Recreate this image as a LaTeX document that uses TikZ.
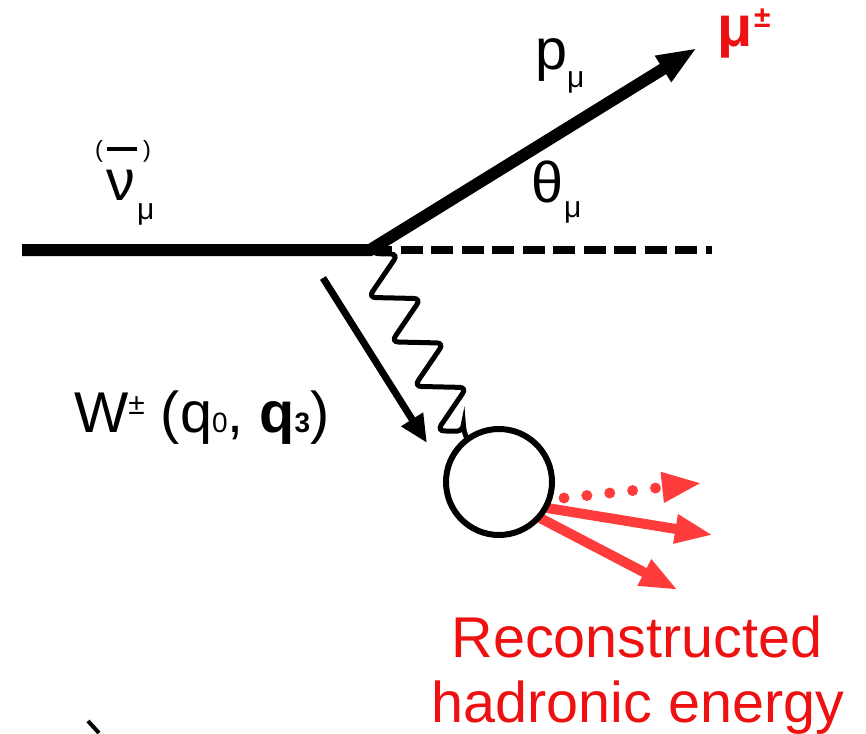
\documentclass[tikz,border=0pt]{standalone}
\usepackage{fontspec}
\setmainfont{Liberation Sans}
\usetikzlibrary{arrows.meta,decorations.pathmorphing}
\definecolor{txtred}{RGB}{238,17,17}
\definecolor{arrred}{RGB}{255,60,60}
\newcommand\myfs[1]{\fontsize{#1}{#1}\selectfont}
\begin{document}
\begin{tikzpicture}[x=1pt,y=-1pt,
  lbl/.style={inner sep=0pt, font=\myfs{57.5}},
  sublbl/.style={inner sep=0pt, font=\myfs{30}},
  redtxt/.style={inner sep=0pt, font=\myfs{57.5}, text=txtred},
  redarrow/.style={draw=arrred, line width=10pt, -{Triangle[length=38pt,width=27pt]}},
]
\useasboundingbox (0,0) rectangle (866,733);
% coordinates
\coordinate (a) at (22,250);
\coordinate (v) at (370,250);
\coordinate (d) at (712,250);
\coordinate (m) at (697,48);
\coordinate (ws) at (323,278);
\coordinate (we) at (427,443);
\coordinate (h1s) at (564,498);
\coordinate (h1e) at (702,483);
\coordinate (h2s) at (547,508);
\coordinate (h2e) at (713,535);
\coordinate (h3s) at (540,518);
\coordinate (h3e) at (678,590);
% lepton lines
\draw[line width=8pt, dash pattern=on 22pt off 8.5pt] (v) -- (d);
\draw[line width=12pt, -{Triangle[length=40pt,width=28pt]}] (a) -- (v) -- (m);
% hadron arrows
\draw[arrred, line width=11pt, line cap=round, dash pattern=on 0pt off 23pt,
      -{Triangle[length=40pt,width=28pt]}] (h1s) -- (h1e);
\draw[redarrow] (h2s) -- (h2e);
\draw[redarrow] (h3s) -- (h3e);
% hadronic blob
\node[circle, draw, line width=6pt, minimum size=106pt, inner sep=0pt, fill=white] (c) at (499,482) {};
% W boson
\draw[line width=5pt, rounded corners=7pt, decorate, decoration={zigzag, segment length=50pt, amplitude=23pt, pre length=4pt, post length=4pt}] (v) -- (c.126);
\draw[line width=7pt, -{Triangle[length=28pt,width=24pt]}] (ws) -- (we);
% labels
\node[lbl, anchor=base] (nu) at (121,200) {ν};
\node[sublbl, anchor=base west] (nusub) at (137,219) {μ};
\node[inner sep=0pt, font=\myfs{23.5}, anchor=base] (lpar) at (99,157) {(};
\node[inner sep=0pt, font=\myfs{23.5}, anchor=base] (rpar) at (147,157) {)};
\draw[line width=3.5pt] (107,149) -- (137,149);
\node[lbl, anchor=base] (p) at (551,70) {p};
\node[sublbl, anchor=base west] (psub) at (567,88) {μ};
\node[redtxt, anchor=base, font=\myfs{57.5}\bfseries] (mu) at (735,47) {μ};
\node[inner sep=0pt, anchor=base west, font=\myfs{30}\bfseries, text=txtred] (pm) at (754,28) {±};
\node[lbl, anchor=base] (th) at (547,202) {θ};
\node[sublbl, anchor=base west] (thsub) at (564,217) {μ};
\node[lbl, anchor=base west] (wl) at (74,432) {W\raisebox{18pt}{\myfs{30}±} (q{\myfs{28}0}, \textbf{q{\myfs{28}3}})};
\node[redtxt, anchor=base] (r1) at (637,657) {Reconstructed};
\node[redtxt, anchor=base] (r2) at (638,722) {hadronic energy};
\draw[line width=4pt] (88,721) -- (99,733);
\end{tikzpicture}
\end{document}
